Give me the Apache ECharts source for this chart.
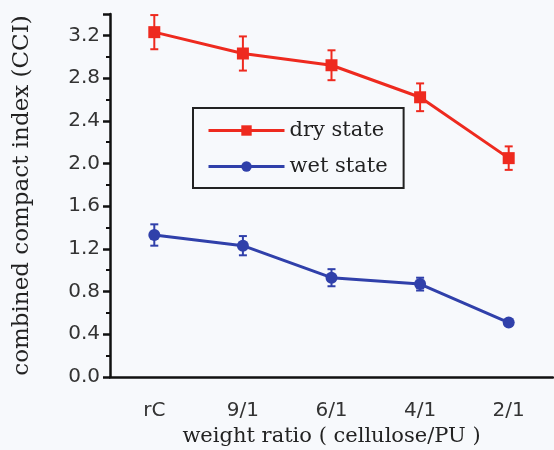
<!DOCTYPE html>
<html>
<head>
<meta charset="utf-8">
<script src="https://cdn.jsdelivr.net/npm/echarts@6/dist/echarts.min.js"></script>
<style>
  html, body { margin: 0; padding: 0; background: #f7f9fc; }
  #chart { width: 554px; height: 450px; }
</style>
</head>
<body>
<div id="chart"></div>
<script>
const categories = ['rC', '9/1', '6/1', '4/1', '2/1']
const dryValues = [3.23, 3.03, 2.92, 2.62, 2.05]
const dryErrors = [0.16, 0.16, 0.14, 0.13, 0.11]
const wetValues = [1.33, 1.23, 0.93, 0.87, 0.51]
const wetErrors = [0.10, 0.09, 0.08, 0.06, 0.02]

const red = '#ee2a1f'
const blue = '#3040aa'

function errorSeries(values, errors, color) {
  return {
    type: 'custom',
    xAxisIndex: 0,
    silent: true,
    z: 1,
    data: values.map((v, i) => [i, v - errors[i], v + errors[i]]),
    renderItem(params, api) {
      const lo = api.coord([api.value(0), api.value(1)])
      const hi = api.coord([api.value(0), api.value(2)])
      const cap = 4
      const style = { stroke: color, lineWidth: 2 }
      return {
        type: 'group',
        children: [
          { type: 'line', shape: { x1: lo[0], y1: lo[1], x2: hi[0], y2: hi[1] }, style },
          { type: 'line', shape: { x1: lo[0] - cap, y1: lo[1], x2: lo[0] + cap, y2: lo[1] }, style },
          { type: 'line', shape: { x1: hi[0] - cap, y1: hi[1], x2: hi[0] + cap, y2: hi[1] }, style },
        ],
      }
    },
  }
}

const chart = echarts.init(document.getElementById('chart'))
chart.setOption({
  backgroundColor: '#f7f9fc',
  animation: false,
  grid: { left: 110, right: 1, top: 14, bottom: 73, outerBoundsMode: 'none' },
  legend: {
    orient: 'vertical',
    left: 193,
    top: 108,
    padding: [12, 16, 11, 14],
    itemWidth: 76,
    itemHeight: 13,
    itemGap: 15,
    borderColor: '#222',
    borderWidth: 2,
    lineStyle: { width: 3 },
    data: ['dry state', 'wet state'],
    textStyle: { fontFamily: 'DejaVu Serif', fontSize: 21, color: '#222' },
  },
  xAxis: [
    {
      type: 'category',
      data: categories,
      boundaryGap: true,
      name: 'weight ratio ( cellulose/PU )',
      nameLocation: 'middle',
      nameGap: 45,
      nameTextStyle: { fontFamily: 'DejaVu Serif', fontSize: 21, color: '#222' },
      axisLine: { lineStyle: { color: '#111', width: 2.5 } },
      axisTick: { alignWithLabel: true, length: 8, lineStyle: { color: '#111', width: 2.5 } },
      axisLabel: { fontFamily: 'DejaVu Sans', fontSize: 20, color: '#333', margin: 24 },
      splitLine: { show: false },
    },
    {
      type: 'category',
      data: categories,
      boundaryGap: true,
      position: 'bottom',
      axisLine: { show: false },
      axisTick: { length: 4, lineStyle: { color: '#111', width: 2.5 } },
      axisLabel: { show: false },
      splitLine: { show: false },
    },
  ],
  yAxis: {
    type: 'value',
    min: 0,
    max: 3.4,
    interval: 0.4,
    name: 'combined compact index (CCI)',
    nameLocation: 'middle',
    nameGap: 76,
    nameTextStyle: { fontFamily: 'DejaVu Serif', fontSize: 23, color: '#222' },
    axisLine: { show: true, lineStyle: { color: '#111', width: 2.5 } },
    axisTick: { show: true, length: 7, lineStyle: { color: '#111', width: 2.5 } },
    minorTick: { show: true, splitNumber: 2, length: 4, lineStyle: { color: '#111', width: 2 } },
    axisLabel: {
      fontFamily: 'DejaVu Sans', fontSize: 20, color: '#333', margin: 10,
      formatter: v => (v > 3.3 ? '' : v.toFixed(1)),
    },
    splitLine: { show: false },
  },
  series: [
    errorSeries(dryValues, dryErrors, red),
    errorSeries(wetValues, wetErrors, blue),
    {
      name: 'dry state',
      type: 'line',
      data: dryValues,
      symbol: 'rect',
      symbolSize: 12,
      color: red,
      lineStyle: { width: 3, color: red },
      z: 3,
    },
    {
      name: 'wet state',
      type: 'line',
      data: wetValues,
      symbol: 'circle',
      symbolSize: 12,
      color: blue,
      lineStyle: { width: 3, color: blue },
      z: 3,
    },
  ],
})
</script>
</body>
</html>
